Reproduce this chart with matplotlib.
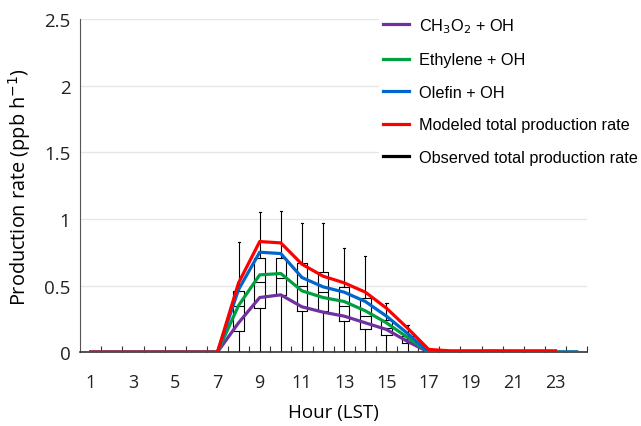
import matplotlib
matplotlib.use("Agg")
import matplotlib.pyplot as plt
import numpy as np

hours = list(range(1, 25))
ch3o2 = [0]*7 + [0.22, 0.41, 0.43, 0.34, 0.30, 0.27, 0.22, 0.17, 0.08, 0.0] + [0.0]*7
ethylene = [0]*7 + [0.35, 0.58, 0.59, 0.46, 0.41, 0.38, 0.31, 0.22, 0.11, 0.0] + [0.0]*7
olefin = [0]*7 + [0.47, 0.75, 0.74, 0.56, 0.49, 0.45, 0.38, 0.27, 0.14, 0.0] + [0.0]*7
modeled = [0]*7 + [0.52, 0.83, 0.82, 0.66, 0.57, 0.52, 0.45, 0.33, 0.18, 0.02] + [0.01]*7

# observed box statistics (hours 8-17)
box_hours = [8, 9, 10, 11, 12, 13, 14, 15, 16, 17]
q1 = [0.16, 0.33, 0.43, 0.31, 0.31, 0.23, 0.17, 0.13, 0.07, 0.0]
med = [0.35, 0.53, 0.56, 0.50, 0.45, 0.35, 0.27, 0.18, 0.10, 0.01]
q3 = [0.46, 0.71, 0.71, 0.67, 0.60, 0.49, 0.41, 0.24, 0.12, 0.02]
wmin = [0.0, 0.0, 0.0, 0.0, 0.0, 0.0, 0.0, 0.0, 0.0, 0.0]
wmax = [0.83, 1.05, 1.06, 0.97, 0.97, 0.78, 0.72, 0.37, 0.20, 0.03]
obs_night_hours = [17, 18, 19, 20, 21, 22, 23]
obs_night = [0.005, 0.005, 0.008, 0.01, 0.008, 0.005, 0.005]

xticks_labels = [1, 3, 5, 7, 9, 11, 13, 15, 17, 19, 21, 23]

fig = plt.figure(figsize=(6.41, 4.27), dpi=100)
ax = fig.add_axes([0.125, 0.173, 0.791, 0.780])

ax.set_xlim(0.5, 24.5)
ax.set_ylim(0, 2.5)
ax.set_yticks([0, 0.5, 1, 1.5, 2, 2.5])
ax.set_yticklabels(["0", "0.5", "1", "1.5", "2", "2.5"])
ax.yaxis.grid(True, color="#e6e6e6", linewidth=1.0)
ax.set_axisbelow(True)

# boxes
stats = []
for i in range(len(box_hours)):
    stats.append(dict(med=med[i], q1=q1[i], q3=q3[i], whislo=wmin[i], whishi=wmax[i], fliers=[]))
ax.bxp(stats, positions=box_hours, widths=0.5, showfliers=False,
       boxprops=dict(color="black", linewidth=0.8),
       whiskerprops=dict(color="black", linewidth=0.8),
       capprops=dict(color="black", linewidth=0.8),
       medianprops=dict(color="black", linewidth=0.8),
       capwidths=0.1, manage_ticks=False, zorder=2)
ax.plot(obs_night_hours, obs_night, color="black", linewidth=1.5, zorder=2)

lw = 2.3
l1, = ax.plot(hours, ch3o2, color="#7030A0", linewidth=lw, label="CH$_3$O$_2$ + OH", zorder=3)
l2, = ax.plot(hours, ethylene, color="#00A040", linewidth=lw, label="Ethylene + OH", zorder=3)
l3, = ax.plot(hours, olefin, color="#0066CC", linewidth=lw, label="Olefin + OH", zorder=4)
l4, = ax.plot(hours[:23], modeled[:23], color="#FF0000", linewidth=lw, label="Modeled total production rate", zorder=5)
l5, = ax.plot([], [], color="black", linewidth=lw, label="Observed total production rate")

ax.set_xticks(np.arange(1.5, 25.0, 1))
ax.set_xticklabels([])
ax.tick_params(axis="x", direction="in", length=4, width=0.8, colors="#333333")
ax.tick_params(axis="y", length=0, labelsize=13.5, pad=7)
for h in xticks_labels:
    ax.text(h, -0.16, str(h), ha="center", va="top", fontsize=13,
            fontfamily="Open Sans", color="#222222")
for lab in ax.get_yticklabels():
    lab.set_fontfamily("Open Sans")
    lab.set_color("#222222")

for s in ["top", "right"]:
    ax.spines[s].set_visible(False)
ax.spines["left"].set_color("#555555")
ax.spines["bottom"].set_color("#333333")
ax.spines["bottom"].set_linewidth(1.2)

ax.set_xlabel("Hour (LST)", fontsize=13.5, fontfamily="Open Sans", labelpad=33)
ax.set_ylabel("Production rate (ppb h$^{-1}$)", fontsize=14.3, fontfamily="Open Sans", labelpad=8)

leg = ax.legend(handles=[l1, l2, l3, l4, l5], loc="upper left", bbox_to_anchor=(0.59, 1.019),
                frameon=True, facecolor="white", edgecolor="none", framealpha=1,
                prop=dict(family="Liberation Sans", size=11.7), handlelength=1.6,
                labelspacing=1.08, handletextpad=0.65, borderpad=0.2, borderaxespad=0.0)

fig.savefig("out.png", dpi=100)
